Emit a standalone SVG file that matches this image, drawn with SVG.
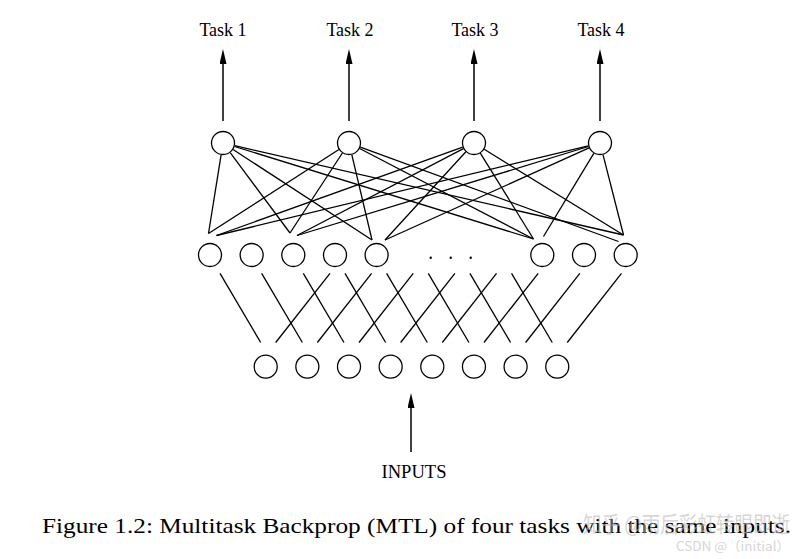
<svg xmlns="http://www.w3.org/2000/svg" width="810" height="559" viewBox="0 0 810 559">
<style>
.n{fill:#fff;stroke:#000;stroke-width:1.3}
.e{stroke:#000;stroke-width:1.3;fill:none}
.a{stroke:#000;stroke-width:1.5;fill:none;marker-end:url(#ah)}
.lbl{font-family:"Liberation Serif","Times New Roman",serif;font-size:18px;fill:#000;text-anchor:middle}
.cap{font-family:"Liberation Serif","Times New Roman",serif;font-size:21px;fill:#000}
.wm{font-family:"Noto Sans CJK SC","Noto Sans",sans-serif;fill:#bbb;opacity:0.6}
</style>
<defs>
<marker id="ah" viewBox="0 0 15 7" refX="8" refY="3.5" markerWidth="15" markerHeight="7" markerUnits="userSpaceOnUse" orient="auto">
<path d="M0,0 L15,3.5 L0,7 z" fill="#000"/>
</marker>
</defs>
<rect width="810" height="559" fill="#fff"/>

<g id="connectors">
<!-- task outputs -->
<line class="a" x1="223" y1="121" x2="223" y2="56"/>
<line class="a" x1="349" y1="121" x2="349" y2="56"/>
<line class="a" x1="474" y1="121" x2="474" y2="56"/>
<line class="a" x1="600" y1="121" x2="600" y2="56"/>
<!-- input arrow -->
<line class="a" x1="411" y1="452" x2="411" y2="400"/>
<!-- task to hidden -->
<line class="e" x1="221.1" y1="154.8" x2="208.5" y2="233.5"/>
<line class="e" x1="230.2" y1="152.6" x2="290" y2="233"/>
<line class="e" x1="233.1" y1="149.5" x2="372" y2="240"/>
<line class="e" x1="234.5" y1="146.5" x2="533.5" y2="239"/>
<line class="e" x1="234.7" y1="145.7" x2="623.5" y2="235"/>
<line class="e" x1="338.9" y1="149.5" x2="208.5" y2="233.5"/>
<line class="e" x1="342.4" y1="153" x2="290" y2="233"/>
<line class="e" x1="351.8" y1="154.7" x2="372" y2="240"/>
<line class="e" x1="359.6" y1="148.5" x2="533.5" y2="239"/>
<line class="e" x1="360.3" y1="147.1" x2="618.5" y2="241.5"/>
<line class="e" x1="462.7" y1="147.1" x2="216.5" y2="235.5"/>
<line class="e" x1="463.4" y1="148.6" x2="297" y2="235.5"/>
<line class="e" x1="465.9" y1="151.8" x2="385" y2="240"/>
<line class="e" x1="480.3" y1="153.2" x2="533.5" y2="239"/>
<line class="e" x1="484.2" y1="149.3" x2="623.5" y2="235"/>
<line class="e" x1="588.3" y1="145.8" x2="216.5" y2="235.5"/>
<line class="e" x1="588.5" y1="146.5" x2="297" y2="235.5"/>
<line class="e" x1="589.1" y1="147.9" x2="385" y2="240"/>
<line class="e" x1="593.8" y1="153.3" x2="543.5" y2="236.5"/>
<line class="e" x1="603" y1="154.6" x2="623.5" y2="235"/>
<!-- hidden to input: down-right -->
<line class="e" x1="220" y1="273.3" x2="260.7" y2="342.5"/>
<line class="e" x1="261.65" y1="273.3" x2="302.35" y2="342.5"/>
<line class="e" x1="303.3" y1="273.3" x2="344" y2="342.5"/>
<line class="e" x1="345" y1="273.3" x2="385.65" y2="342.5"/>
<line class="e" x1="386.6" y1="273.3" x2="427.3" y2="342.5"/>
<line class="e" x1="428.25" y1="273.3" x2="468.95" y2="342.5"/>
<line class="e" x1="469.9" y1="273.3" x2="510.6" y2="342.5"/>
<line class="e" x1="511.55" y1="273.3" x2="552.25" y2="342.5"/>
<!-- hidden to input: down-left -->
<line class="e" x1="330" y1="273.3" x2="275.7" y2="342.5"/>
<line class="e" x1="371.6" y1="273.3" x2="317.35" y2="342.5"/>
<line class="e" x1="413.25" y1="273.3" x2="359" y2="342.5"/>
<line class="e" x1="454.9" y1="273.3" x2="400.65" y2="342.5"/>
<line class="e" x1="496.55" y1="273.3" x2="442.3" y2="342.5"/>
<line class="e" x1="538.2" y1="273.3" x2="483.95" y2="342.5"/>
<line class="e" x1="579.85" y1="273.3" x2="525.6" y2="342.5"/>
<line class="e" x1="621.5" y1="273.3" x2="567.25" y2="342.5"/>
</g>

<g id="task1"><circle class="n" cx="223" cy="143" r="11.5"/><text class="lbl" x="223" y="36">Task 1</text></g>
<g id="task2"><circle class="n" cx="349" cy="143" r="11.5"/><text class="lbl" x="350" y="36">Task 2</text></g>
<g id="task3"><circle class="n" cx="474" cy="143" r="11.5"/><text class="lbl" x="475" y="36">Task 3</text></g>
<g id="task4"><circle class="n" cx="600" cy="143" r="11.5"/><text class="lbl" x="601" y="36">Task 4</text></g>

<g id="hidden">
<circle class="n" cx="210" cy="255" r="11.5"/>
<circle class="n" cx="251.65" cy="255" r="11.5"/>
<circle class="n" cx="293.3" cy="255" r="11.5"/>
<circle class="n" cx="335" cy="255" r="11.5"/>
<circle class="n" cx="376.6" cy="255" r="11.5"/>
<circle class="n" cx="542.3" cy="255" r="11.5"/>
<circle class="n" cx="584" cy="255" r="11.5"/>
<circle class="n" cx="625.7" cy="255" r="11.5"/>
<circle cx="430.7" cy="257.7" r="1.2" fill="#000"/>
<circle cx="450.7" cy="257.7" r="1.2" fill="#000"/>
<circle cx="470.7" cy="257.7" r="1.2" fill="#000"/>
</g>

<g id="inputs">
<circle class="n" cx="265.7" cy="366.7" r="11.5"/>
<circle class="n" cx="307.35" cy="366.7" r="11.5"/>
<circle class="n" cx="349" cy="366.7" r="11.5"/>
<circle class="n" cx="390.65" cy="366.7" r="11.5"/>
<circle class="n" cx="432.3" cy="366.7" r="11.5"/>
<circle class="n" cx="473.95" cy="366.7" r="11.5"/>
<circle class="n" cx="515.6" cy="366.7" r="11.5"/>
<circle class="n" cx="557.25" cy="366.7" r="11.5"/>
<text class="lbl" x="414" y="477.5" textLength="65" lengthAdjust="spacingAndGlyphs">INPUTS</text>
</g>

<text class="cap" x="42" y="533" textLength="749" lengthAdjust="spacingAndGlyphs">Figure 1.2: Multitask Backprop (MTL) of four tasks with the same inputs.</text>
<text class="wm" x="583" y="532" font-size="22" textLength="207" lengthAdjust="spacingAndGlyphs">知乎 @雨后彩虹转眼即逝</text>
<text class="wm" x="676" y="551" font-size="13" textLength="114" lengthAdjust="spacingAndGlyphs">CSDN @（initial）</text>
</svg>
